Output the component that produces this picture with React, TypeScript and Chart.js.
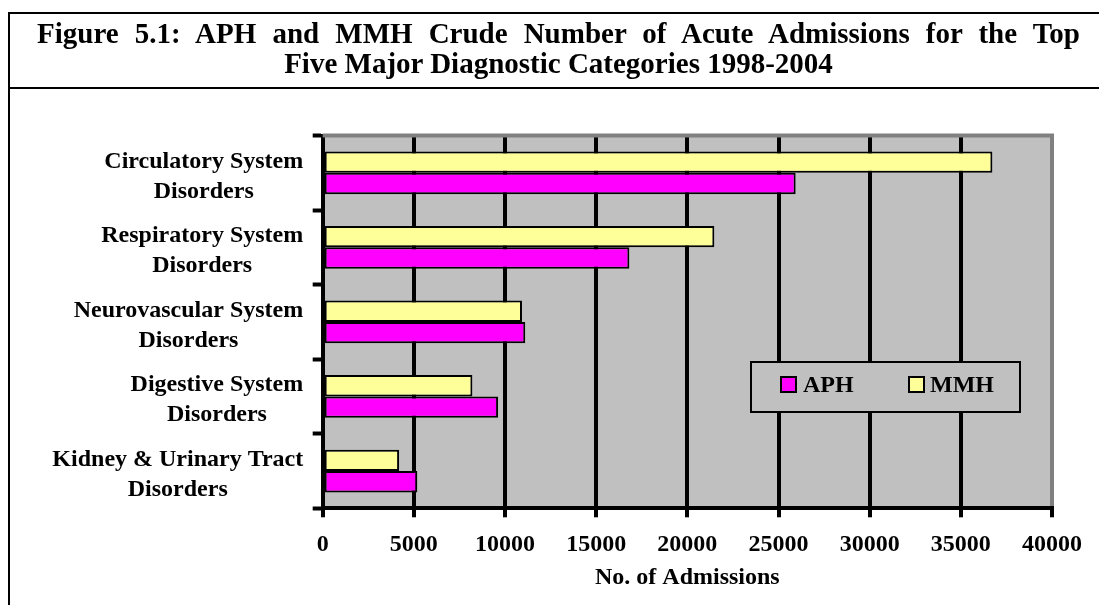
import React, { useEffect, useRef } from "react";
import { Chart, registerables } from "chart.js";

Chart.register(...registerables);

// ---------- data ----------
const titleLines = [
  "Figure 5.1: APH and MMH Crude Number of Acute Admissions for the Top",
  "Five Major Diagnostic Categories 1998-2004",
];
const categories: string[][] = [
  ["Circulatory System", "Disorders"],
  ["Respiratory System", "Disorders"],
  ["Neurovascular System", "Disorders"],
  ["Digestive System", "Disorders"],
  ["Kidney & Urinary Tract", "Disorders"],
];
const mmhValues = [36730, 21480, 10930, 8210, 4190];
const aphValues = [25940, 16820, 11110, 9620, 5190];
const xMin = 0;
const xMax = 40000;
const xStep = 5000;
const xAxisTitle = "No. of Admissions";
const seriesNames = { aph: "APH", mmh: "MMH" };

// ---------- styles ----------
const FONT = '"Liberation Serif", "Times New Roman", Times, serif';
const APH_COLOR = "#FF00FF";
const MMH_COLOR = "#FFFF99";
const PLOT_BG = "#C0C0C0";
const PLOT_EDGE = "#808080";

const plotBgPlugin = {
  id: "plotBg",
  beforeDraw(chart: any) {
    const { ctx, chartArea } = chart;
    ctx.save();
    ctx.fillStyle = PLOT_BG;
    ctx.fillRect(chartArea.left, chartArea.top, chartArea.right - chartArea.left, chartArea.bottom - chartArea.top);
    ctx.restore();
  },
  beforeDatasetsDraw(chart: any) {
    const { ctx, chartArea } = chart;
    ctx.save();
    ctx.strokeStyle = PLOT_EDGE;
    ctx.lineWidth = 4;
    ctx.beginPath();
    ctx.moveTo(chartArea.left, chartArea.top);
    ctx.lineTo(chartArea.right + 2, chartArea.top);
    ctx.stroke();
    ctx.restore();
  },
};

const yLabelPlugin = {
  id: "yLabels",
  afterDraw(chart: any) {
    const scale = chart.scales.y;
    const ctx = chart.ctx;
    const right = chart.chartArea.left - 19.5;
    ctx.save();
    ctx.font = `bold 24px ${FONT}`;
    ctx.fillStyle = "#000";
    ctx.textAlign = "center";
    ctx.textBaseline = "alphabetic";
    categories.forEach((lines, i) => {
      const y = scale.getPixelForTick(i);
      const w = Math.max(...lines.map((l) => ctx.measureText(l).width));
      const cx = right - w / 2;
      lines.forEach((l, j) => ctx.fillText(l, cx, y - 5 + j * 30));
    });
    ctx.restore();
  },
};

export default function App() {
  const canvasRef = useRef<HTMLCanvasElement | null>(null);

  useEffect(() => {
    const canvas = canvasRef.current;
    if (!canvas) return;
    const chart = new Chart(canvas, {
      type: "bar",
      data: {
        labels: categories.map((c) => c.join(" ")),
        datasets: [
          {
            label: seriesNames.mmh,
            data: mmhValues,
            backgroundColor: MMH_COLOR,
            borderColor: "#000",
            borderWidth: 2,
            borderSkipped: false,
          },
          {
            label: seriesNames.aph,
            data: aphValues,
            backgroundColor: APH_COLOR,
            borderColor: "#000",
            borderWidth: 2,
            borderSkipped: false,
          },
        ],
      },
      options: {
        indexAxis: "y",
        responsive: false,
        animation: false,
        devicePixelRatio: 1,
        datasets: { bar: { categoryPercentage: 0.573, barPercentage: 1.0 } },
        layout: { padding: { left: 312.7, right: 47, top: 135.5, bottom: 0 } },
        plugins: {
          legend: { display: false },
          title: { display: false },
          tooltip: { enabled: false },
        },
        scales: {
          x: {
            type: "linear",
            min: xMin,
            max: xMax,
            afterFit: (s: any) => {
              s.height = 96.7;
            },
            ticks: {
              stepSize: xStep,
              color: "#000",
              font: { family: FONT, size: 24, weight: "bold" },
              padding: 12.6,
              maxRotation: 0,
              callback: (v: any) => String(v),
            },
            grid: {
              color: (c: any) => (c.index === 8 ? PLOT_EDGE : "#000"),
              lineWidth: 4,
              tickColor: "#000",
              tickWidth: 4,
              tickLength: 9,
            },
            border: { color: "#000", width: 4 },
            title: {
              display: true,
              text: xAxisTitle,
              color: "#000",
              font: { family: FONT, size: 24, weight: "bold" },
              padding: { top: 4, bottom: 12.6 },
            },
          },
          y: {
            type: "category",
            ticks: { display: false },
            grid: {
              drawOnChartArea: false,
              drawTicks: true,
              tickLength: 10,
              tickColor: "#000",
              tickWidth: 4,
              offset: true,
            },
            border: { color: "#000", width: 4 },
          },
        },
      },
      plugins: [plotBgPlugin, yLabelPlugin],
    });
    return () => chart.destroy();
  }, []);

  const legendText: React.CSSProperties = {
    position: "absolute",
    top: 372,
    fontFamily: FONT,
    fontWeight: "bold",
    fontSize: 24,
    lineHeight: "24px",
    color: "#000",
    whiteSpace: "nowrap",
  };
  const swatch = (color: string, left: number): React.CSSProperties => ({
    position: "absolute",
    left,
    top: 376,
    width: 17,
    height: 17,
    boxSizing: "border-box",
    border: "2px solid #000",
    background: color,
  });
  const titleFont: React.CSSProperties = {
    fontFamily: FONT,
    fontWeight: "bold",
    fontSize: 29,
    lineHeight: "30px",
    color: "#000",
    whiteSpace: "nowrap",
  };

  return (
    <div style={{ position: "absolute", left: 0, top: 0, width: 1099, height: 605, overflow: "hidden", background: "#fff" }}>
      <canvas ref={canvasRef} width={1099} height={605} style={{ position: "absolute", left: 0, top: 0, display: "block" }} />
      <div
        style={{
          position: "absolute",
          left: 8,
          top: 12,
          width: 1101,
          height: 640,
          boxSizing: "border-box",
          border: "2px solid #000",
          pointerEvents: "none",
        }}
      />
      <div style={{ position: "absolute", left: 8, top: 87, width: 1101, height: 2, background: "#000" }} />
      <div
        style={{
          ...titleFont,
          position: "absolute",
          left: 37,
          top: 18,
          width: 1043,
          textAlign: "justify",
          textAlignLast: "justify",
          whiteSpace: "normal",
        }}
      >
        {titleLines[0]}
      </div>
      <div
        style={{
          ...titleFont,
          position: "absolute",
          left: 8,
          top: 48,
          width: 1101,
          textAlign: "center",
        }}
      >
        {titleLines[1]}
      </div>
      <div
        style={{
          position: "absolute",
          left: 750,
          top: 361,
          width: 271,
          height: 52,
          boxSizing: "border-box",
          border: "2px solid #000",
          background: PLOT_BG,
        }}
      />
      <div style={swatch(APH_COLOR, 780)} />
      <div style={{ ...legendText, left: 803 }}>{seriesNames.aph}</div>
      <div style={swatch(MMH_COLOR, 908)} />
      <div style={{ ...legendText, left: 930 }}>{seriesNames.mmh}</div>
    </div>
  );
}
